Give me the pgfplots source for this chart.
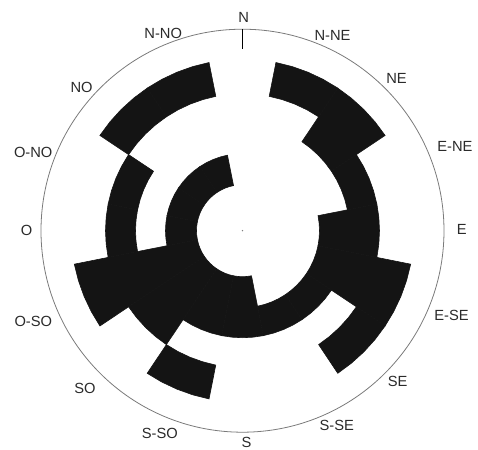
\documentclass[border=0pt]{standalone}
\usepackage{pgfplots}
\pgfplotsset{compat=1.18}
\usepgfplotslibrary{polar}
\usepackage{fontspec}
\setmainfont{Liberation Sans}
\definecolor{secc}{HTML}{141414}
\definecolor{ringc}{HTML}{7A7A7A}
\definecolor{labc}{HTML}{2A2A2A}
\tikzset{
  sec/.style={draw=secc, line width=0.6pt, fill=secc},
  lab/.style={font=\fontsize{14.7bp}{17bp}\selectfont, text=labc, inner sep=0pt, anchor=center},
}
\begin{document}
\begin{tikzpicture}
\useasboundingbox (-242.5bp,-219.3bp) rectangle (235.5bp,230.7bp);
\begin{polaraxis}[
  at={(0,0)}, anchor=center,
  scale only axis, width=403bp, height=403bp,
  xmin=0, xmax=360, ymin=0, ymax=201.5,
  ytick=\empty, xtick=\empty,
  major tick length=0pt,
  grid=none,
  separate axis lines,
  x axis line style={draw=ringc, line width=0.8pt},
  y axis line style={draw=none},
  clip=false,
]
% NNE: 137-171.5
\addplot[sec] coordinates {(56.25,171.5)(61.875,171.5)(67.5,171.5)(73.125,171.5)(78.75,171.5)(78.75,137)(73.125,137)(67.5,137)(61.875,137)(56.25,137)} -- cycle;
% NE: 107-171.5
\addplot[sec] coordinates {(33.75,171.5)(39.375,171.5)(45,171.5)(50.625,171.5)(56.25,171.5)(56.25,107)(50.625,107)(45,107)(39.375,107)(33.75,107)} -- cycle;
% ENE: 107-137
\addplot[sec] coordinates {(11.25,137)(16.875,137)(22.5,137)(28.125,137)(33.75,137)(33.75,107)(28.125,107)(22.5,107)(16.875,107)(11.25,107)} -- cycle;
% E: 77-137
\addplot[sec] coordinates {(-11.25,137)(-5.625,137)(0,137)(5.625,137)(11.25,137)(11.25,77)(5.625,77)(0,77)(-5.625,77)(-11.25,77)} -- cycle;
% ESE: 77-171.5
\addplot[sec] coordinates {(326.25,171.5)(331.875,171.5)(337.5,171.5)(343.125,171.5)(348.75,171.5)(348.75,77)(343.125,77)(337.5,77)(331.875,77)(326.25,77)} -- cycle;
% SE: 77-107 and 137-171.5
\addplot[sec] coordinates {(303.75,107)(309.375,107)(315,107)(320.625,107)(326.25,107)(326.25,77)(320.625,77)(315,77)(309.375,77)(303.75,77)} -- cycle;
\addplot[sec] coordinates {(303.75,171.5)(309.375,171.5)(315,171.5)(320.625,171.5)(326.25,171.5)(326.25,137)(320.625,137)(315,137)(309.375,137)(303.75,137)} -- cycle;
% SSE: 77-107
\addplot[sec] coordinates {(281.25,107)(286.875,107)(292.5,107)(298.125,107)(303.75,107)(303.75,77)(298.125,77)(292.5,77)(286.875,77)(281.25,77)} -- cycle;
% S: 46-107
\addplot[sec] coordinates {(258.75,107)(264.375,107)(270,107)(275.625,107)(281.25,107)(281.25,46)(275.625,46)(270,46)(264.375,46)(258.75,46)} -- cycle;
% SSW: 46-107 and 137-171.5
\addplot[sec] coordinates {(236.25,107)(241.875,107)(247.5,107)(253.125,107)(258.75,107)(258.75,46)(253.125,46)(247.5,46)(241.875,46)(236.25,46)} -- cycle;
\addplot[sec] coordinates {(236.25,171.5)(241.875,171.5)(247.5,171.5)(253.125,171.5)(258.75,171.5)(258.75,137)(253.125,137)(247.5,137)(241.875,137)(236.25,137)} -- cycle;
% SW: 46-137
\addplot[sec] coordinates {(213.75,137)(219.375,137)(225,137)(230.625,137)(236.25,137)(236.25,46)(230.625,46)(225,46)(219.375,46)(213.75,46)} -- cycle;
% WSW: 46-171.5
\addplot[sec] coordinates {(191.25,171.5)(196.875,171.5)(202.5,171.5)(208.125,171.5)(213.75,171.5)(213.75,46)(208.125,46)(202.5,46)(196.875,46)(191.25,46)} -- cycle;
% W: 46-77 and 107-137
\addplot[sec] coordinates {(168.75,77)(174.375,77)(180,77)(185.625,77)(191.25,77)(191.25,46)(185.625,46)(180,46)(174.375,46)(168.75,46)} -- cycle;
\addplot[sec] coordinates {(168.75,137)(174.375,137)(180,137)(185.625,137)(191.25,137)(191.25,107)(185.625,107)(180,107)(174.375,107)(168.75,107)} -- cycle;
% WNW: 46-77 and 107-137
\addplot[sec] coordinates {(146.25,77)(151.875,77)(157.5,77)(163.125,77)(168.75,77)(168.75,46)(163.125,46)(157.5,46)(151.875,46)(146.25,46)} -- cycle;
\addplot[sec] coordinates {(146.25,137)(151.875,137)(157.5,137)(163.125,137)(168.75,137)(168.75,107)(163.125,107)(157.5,107)(151.875,107)(146.25,107)} -- cycle;
% NW: 46-77 and 137-171.5
\addplot[sec] coordinates {(123.75,77)(129.375,77)(135,77)(140.625,77)(146.25,77)(146.25,46)(140.625,46)(135,46)(129.375,46)(123.75,46)} -- cycle;
\addplot[sec] coordinates {(123.75,171.5)(129.375,171.5)(135,171.5)(140.625,171.5)(146.25,171.5)(146.25,137)(140.625,137)(135,137)(129.375,137)(123.75,137)} -- cycle;
% NNW: 46-77 and 137-171.5
\addplot[sec] coordinates {(101.25,77)(106.875,77)(112.5,77)(118.125,77)(123.75,77)(123.75,46)(118.125,46)(112.5,46)(106.875,46)(101.25,46)} -- cycle;
\addplot[sec] coordinates {(101.25,171.5)(106.875,171.5)(112.5,171.5)(118.125,171.5)(123.75,171.5)(123.75,137)(118.125,137)(112.5,137)(106.875,137)(101.25,137)} -- cycle;
% north tick and centre dot
\addplot[black, line width=0.8pt] coordinates {(90,182) (90,201.5)};
\addplot[only marks, mark=*, mark size=0.5pt, gray] coordinates {(0,0)};
% direction labels
\node[lab] at (axis cs:89.7,213.4) {N};
\node[lab] at (axis cs:65.3,215.4) {N-NE};
\node[lab] at (axis cs:44.7,216.8) {NE};
\node[lab] at (axis cs:21.6,228.5) {E-NE};
\node[lab] at (axis cs:0.2,219.2) {E};
\node[lab] at (axis cs:-22,225.5) {E-SE};
\node[lab] at (axis cs:-44.1,216) {SE};
\node[lab] at (axis cs:-64.1,216) {S-SE};
\node[lab] at (axis cs:-88.9,211.8) {S};
\node[lab] at (axis cs:247.8,218.8) {S-SO};
\node[lab] at (axis cs:225,222.8) {SO};
\node[lab] at (axis cs:203.5,228.1) {O-SO};
\node[lab] at (axis cs:180,215.8) {O};
\node[lab] at (axis cs:159.6,223.3) {O-NO};
\node[lab] at (axis cs:138.3,215.5) {NO};
\node[lab] at (axis cs:111.9,212.7) {N-NO};
\end{polaraxis}
\end{tikzpicture}
\end{document}
